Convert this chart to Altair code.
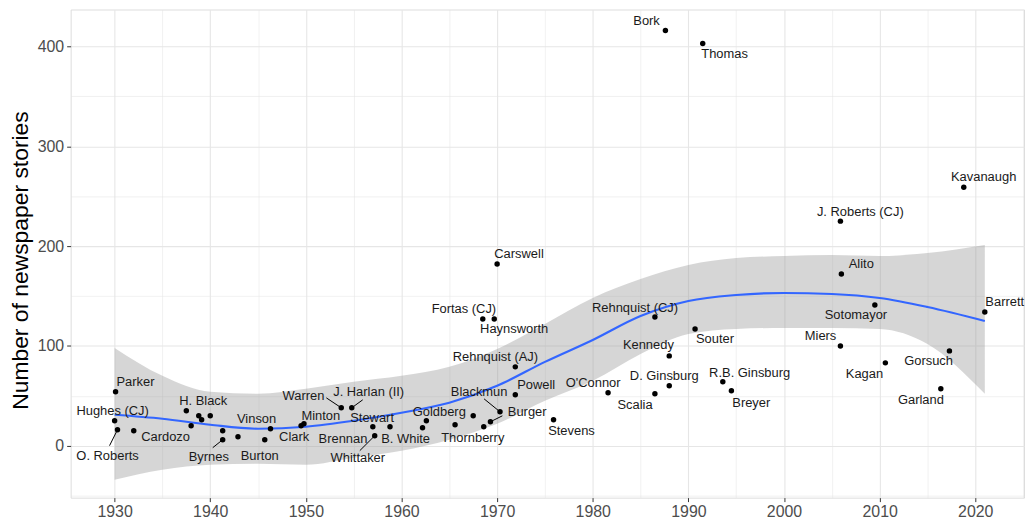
import altair as alt
import pandas as pd

# ---------------- data ----------------
names = [
    "Parker", "Hughes (CJ)", "O. Roberts", "Cardozo", "H. Black", "Reed",
    "Frankfurter", "Douglas", "Murphy", "Jackson", "Byrnes", "Rutledge",
    "Burton", "Vinson", "Clark", "Minton", "Warren", "J. Harlan (II)",
    "Brennan", "Whittaker", "Stewart", "B. White", "Goldberg", "Fortas (AJ)",
    "Marshall", "Thornberry", "Burger", "Blackmun", "Powell", "Rehnquist (AJ)",
    "Carswell", "Fortas (CJ)", "Haynsworth", "Stevens", "O'Connor", "Scalia",
    "Rehnquist (CJ)", "Kennedy", "D. Ginsburg", "Souter", "R.B. Ginsburg",
    "Breyer", "Bork", "Thomas", "Kavanaugh", "J. Roberts (CJ)", "Alito",
    "Sotomayor", "Barrett", "Miers", "Kagan", "Gorsuch", "Garland",
]
years = [
    1930.1, 1930.0, 1930.3, 1932.0, 1937.5, 1938.0,
    1938.8, 1939.1, 1940.0, 1941.3, 1941.3, 1942.9,
    1945.7, 1946.3, 1949.5, 1949.8, 1953.7, 1954.8,
    1957.0, 1957.2, 1958.8, 1962.2, 1962.6, 1965.6,
    1967.5, 1968.6, 1969.3, 1970.3, 1971.9, 1971.9,
    1970.0, 1968.5, 1969.7, 1975.9, 1981.6, 1986.5,
    1986.5, 1988.0, 1988.0, 1990.7, 1993.6,
    1994.5, 1987.6, 1991.5, 2018.8, 2005.9, 2006.0,
    2009.5, 2021.0, 2005.9, 2010.6, 2017.3, 2016.4,
]
stories = [
    54, 25, 16, 15, 35, 20,
    30, 26, 30, 15, 6, 9,
    6, 17, 20, 22, 38, 38,
    19, 10, 19, 18, 25, 21,
    30, 19, 24, 34, 51, 79,
    182, 127, 127, 26, 53, 52,
    129, 90, 60, 117, 64,
    55, 416, 403, 259, 225, 172,
    141, 134, 100, 83, 95, 57,
]

# loess smooth with confidence band
curve_years = [1930, 1935, 1940, 1945, 1950, 1955, 1960, 1965, 1970, 1975,
               1980, 1985, 1990, 1995, 2000, 2005, 2010, 2015, 2021]
curve_fit = [31, 27, 21, 17, 19, 25, 33, 43, 60, 84,
             106, 130, 145, 151, 153, 152, 148, 139, 125]
curve_upper = [98, 70, 54, 52, 57, 64, 70, 79, 97, 122,
               148, 167, 181, 188, 190, 191, 190, 193, 201]
curve_lower = [-34, -24, -19, -18, -19, -12, -5, 6, 22, 45,
               65, 92, 112, 117, 118, 118, 117, 102, 52]

x_ticks = list(range(1925, 2030, 5))
y_ticks = list(range(-50, 450, 50))

# ---------------- label placement (pixel offsets from each point) ----------------
label_offsets = {
    "Parker": (20, -10), "Hughes (CJ)": (-2, -10), "O. Roberts": (-10, 26),
    "Cardozo": (32, 6), "H. Black": (17, -10), "Byrnes": (-14, 17),
    "Burton": (-5, 16), "Vinson": (-14, -10), "Clark": (-7, 11),
    "Minton": (17, -8), "Warren": (-38, -12), "J. Harlan (II)": (17, -16),
    "Brennan": (-30, 12), "Stewart": (-18, -9), "Whittaker": (-17, 22),
    "B. White": (-17, 11), "Goldberg": (13, -9), "Thornberry": (-11, 11),
    "Blackmun": (-21, -20), "Burger": (37, -10), "Powell": (21, -10),
    "Rehnquist (AJ)": (-20, -10), "Carswell": (22, -10), "Fortas (CJ)": (-19, -10),
    "Haynsworth": (20, 10), "Stevens": (18, 11), "O'Connor": (-15, -10),
    "Scalia": (-20, 11), "Rehnquist (CJ)": (-20, -9), "Kennedy": (-21, -11),
    "D. Ginsburg": (-5, -10), "Souter": (20, 10), "R.B. Ginsburg": (27, -9),
    "Breyer": (20, 12), "Bork": (-19, -10), "Thomas": (22, 11),
    "Kavanaugh": (20, -10), "J. Roberts (CJ)": (20, -9), "Alito": (20, -10),
    "Sotomayor": (-19, 10), "Barrett": (20, -10), "Miers": (-20, -10),
    "Kagan": (-21, 11), "Gorsuch": (-21, 10), "Garland": (-20, 11),
}
leader_offsets = {
    "O. Roberts": (-8, 16), "Byrnes": (-10, 8), "Warren": (-15, -10),
    "J. Harlan (II)": (11, -8), "Whittaker": (-15, 15), "Blackmun": (-16, -13),
    "Burger": (12, -6),
}

W, H = 959, 491
X_DOMAIN = [1925.4, 2025.1]
Y_DOMAIN = [-52, 437]
ppx = W / (X_DOMAIN[1] - X_DOMAIN[0])
ppy = H / (Y_DOMAIN[1] - Y_DOMAIN[0])

FONT = "Liberation Sans"

pts = pd.DataFrame({"name": names, "year": years, "stories": stories})
lookup = {n: (y, s) for n, y, s in zip(names, years, stories)}

lab = pd.DataFrame([
    {"name": n,
     "lx": lookup[n][0] + dx / ppx,
     "ly": lookup[n][1] - dy / ppy}
    for n, (dx, dy) in label_offsets.items()
])
lead = pd.DataFrame([
    {"name": n,
     "x1": lookup[n][0], "y1": lookup[n][1],
     "x2": lookup[n][0] + dx / ppx, "y2": lookup[n][1] - dy / ppy}
    for n, (dx, dy) in leader_offsets.items()
])
curve = pd.DataFrame({"year": curve_years, "fit": curve_fit,
                      "lower": curve_lower, "upper": curve_upper})

xscale = alt.Scale(domain=X_DOMAIN, nice=False, zero=False)
yscale = alt.Scale(domain=Y_DOMAIN, nice=False, zero=False)

major_x = "datum.value % 10 == 0"
major_y = "datum.value % 100 == 0"

x_axis = alt.Axis(
    values=x_ticks, format="d",
    labelExpr=f"{major_x} ? datum.label : ''",
    tickColor={"condition": {"test": major_x, "value": "#333333"}, "value": "rgba(0,0,0,0)"},
    gridWidth={"condition": {"test": major_x, "value": 1.1}, "value": 0.55},
    gridColor="#e6e6e6", domain=False, title=None,
    labelFont=FONT, labelFontSize=16, labelColor="#4d4d4d",
    tickSize=4, labelPadding=2, labelOverlap=False, labelFlush=False,
)
y_axis = alt.Axis(
    values=y_ticks, format="d",
    labelExpr=f"{major_y} ? datum.label : ''",
    tickColor={"condition": {"test": major_y, "value": "#333333"}, "value": "rgba(0,0,0,0)"},
    gridWidth={"condition": {"test": major_y, "value": 1.1}, "value": 0.55},
    gridColor="#e6e6e6", domain=False,
    title="Number of newspaper stories",
    titleFont=FONT, titleFontSize=23, titleFontWeight="normal", titleColor="#000000",
    titleX=-50, titleY=252, titleAngle=-90, titleAlign="center", titleBaseline="middle",
    labelFont=FONT, labelFontSize=16, labelColor="#4d4d4d",
    tickSize=4, labelPadding=3, labelOverlap=False, labelFlush=False,
)

band = alt.Chart(curve).mark_area(color="#999999", opacity=0.4, interpolate="monotone").encode(
    x=alt.X("year:Q", scale=xscale, axis=x_axis),
    y=alt.Y("lower:Q", scale=yscale, axis=y_axis),
    y2="upper:Q",
)
line = alt.Chart(curve).mark_line(color="#3366FF", strokeWidth=2.2, interpolate="monotone").encode(
    x=alt.X("year:Q", scale=xscale),
    y=alt.Y("fit:Q", scale=yscale),
)
leaders = alt.Chart(lead).mark_rule(color="#000000", strokeWidth=1).encode(
    x=alt.X("x1:Q", scale=xscale), y=alt.Y("y1:Q", scale=yscale),
    x2="x2:Q", y2="y2:Q",
)
dots = alt.Chart(pts).mark_circle(size=30, color="#000000", opacity=1).encode(
    x=alt.X("year:Q", scale=xscale),
    y=alt.Y("stories:Q", scale=yscale),
)
texts = alt.Chart(lab).mark_text(font=FONT, fontSize=13, color="#1a1a1a",
                                 align="center", baseline="middle").encode(
    x=alt.X("lx:Q", scale=xscale),
    y=alt.Y("ly:Q", scale=yscale),
    text="name:N",
)

chart = alt.layer(band, line, leaders, dots, texts).properties(
    width=W, height=H,
    autosize=alt.AutoSizeParams(type="none"),
    padding={"left": 63, "top": 0, "right": 4, "bottom": 23},
).configure_view(stroke="#4d4d4d", strokeWidth=1).configure(background="white")

chart.save("out.html", embed_options={"renderer": "svg", "actions": False})
